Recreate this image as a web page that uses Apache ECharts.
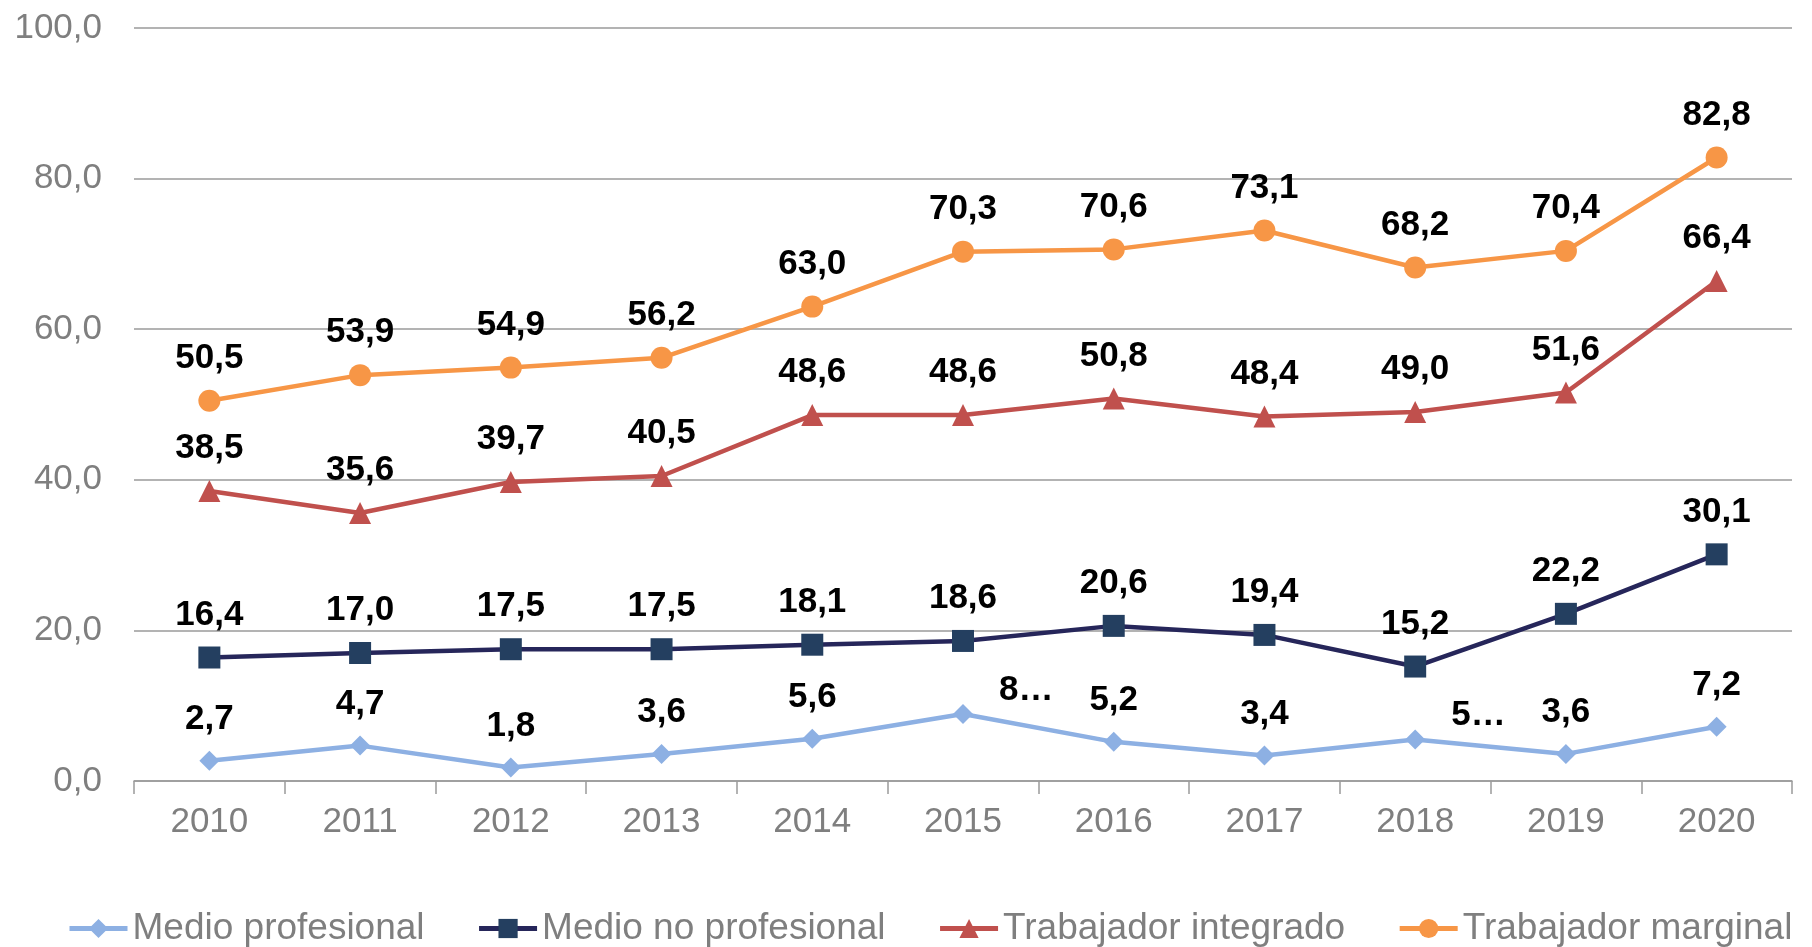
<!DOCTYPE html>
<html>
<head>
<meta charset="utf-8">
<script src="https://cdn.jsdelivr.net/npm/echarts@6/dist/echarts.min.js"></script>
<style>
html,body{margin:0;padding:0;background:#fff;}
#chart{width:1812px;height:947px;}
</style>
</head>
<body>
<div id="chart"></div>
<script>
const years = ['2010','2011','2012','2013','2014','2015','2016','2017','2018','2019','2020'];
const seriesNames = ['Medio profesional','Medio no profesional','Trabajador integrado','Trabajador marginal'];
const medioProfesional = [2.7, 4.7, 1.8, 3.6, 5.6, 8.9, 5.2, 3.4, 5.5, 3.6, 7.2];
const medioNoProfesional = [16.4, 17.0, 17.5, 17.5, 18.1, 18.6, 20.6, 19.4, 15.2, 22.2, 30.1];
const trabajadorIntegrado = [38.5, 35.6, 39.7, 40.5, 48.6, 48.6, 50.8, 48.4, 49.0, 51.6, 66.4];
const trabajadorMarginal = [50.5, 53.9, 54.9, 56.2, 63.0, 70.3, 70.6, 73.1, 68.2, 70.4, 82.8];
// indices whose labels appear truncated in the original
const truncatedLabels = [5, 8];

const fmt = v => v.toFixed(1).replace('.', ',');
const FONT = 'Liberation Sans, Arial, sans-serif';

const labelBase = {
  show: true, position: 'top', distance: 14,
  fontFamily: FONT, fontSize: 35, fontWeight: 'bold', color: '#000'
};

function mkData(arr, truncIdx) {
  return arr.map((v, i) => {
    if (truncIdx && truncIdx.includes(i)) {
      return { value: v, label: { position: 'right', distance: 26, offset: [0, -24],
        formatter: () => fmt(v).charAt(0) + '…' } };
    }
    return v;
  });
}

function mkSeries(name, arr, color, lineColor, symbol, size, trunc) {
  return {
    name, type: 'line', data: mkData(arr, trunc),
    symbol, symbolSize: size,
    itemStyle: { color: color },
    lineStyle: { color: lineColor, width: 4.5 },
    label: Object.assign({}, labelBase, { formatter: p => fmt(p.value) }),
    emphasis: { disabled: true },
    animation: false
  };
}

const chart = echarts.init(document.getElementById('chart'));
chart.setOption({
  backgroundColor: '#fff',
  animation: false,
  grid: { left: 134, right: 20, top: 28, bottom: 166, containLabel: false },
  legend: {
    data: seriesNames,
    left: 62, top: 905, width: 1750,
    itemWidth: 58, itemHeight: 24, itemGap: 52,
    lineStyle: { width: 5 },
    textStyle: { fontFamily: FONT, fontSize: 37, color: '#7f7f7f' }
  },
  xAxis: {
    type: 'category', data: years, boundaryGap: true,
    axisLine: { lineStyle: { color: '#9a9a9a', width: 1.5 } },
    axisTick: { show: true, length: 13, alignWithLabel: false, lineStyle: { color: '#9a9a9a', width: 1.5 } },
    axisLabel: { fontFamily: FONT, fontSize: 35, color: '#7f7f7f', margin: 24 }
  },
  yAxis: {
    type: 'value', min: 0, max: 100, interval: 20,
    axisLine: { show: false }, axisTick: { show: false },
    splitLine: { lineStyle: { color: '#9a9a9a', width: 1.5 } },
    axisLabel: { fontFamily: FONT, fontSize: 35, color: '#7f7f7f', margin: 32,
      formatter: v => fmt(v) }
  },
  series: [
    mkSeries(seriesNames[0], medioProfesional, '#8db0e3', '#8db0e3', 'diamond', 20, truncatedLabels),
    mkSeries(seriesNames[1], medioNoProfesional, '#243f60', '#26265a', 'rect', 22),
    mkSeries(seriesNames[2], trabajadorIntegrado, '#c0504d', '#c0504d', 'triangle', 22),
    mkSeries(seriesNames[3], trabajadorMarginal, '#f79646', '#f79646', 'circle', 22)
  ]
});
</script>
</body>
</html>
